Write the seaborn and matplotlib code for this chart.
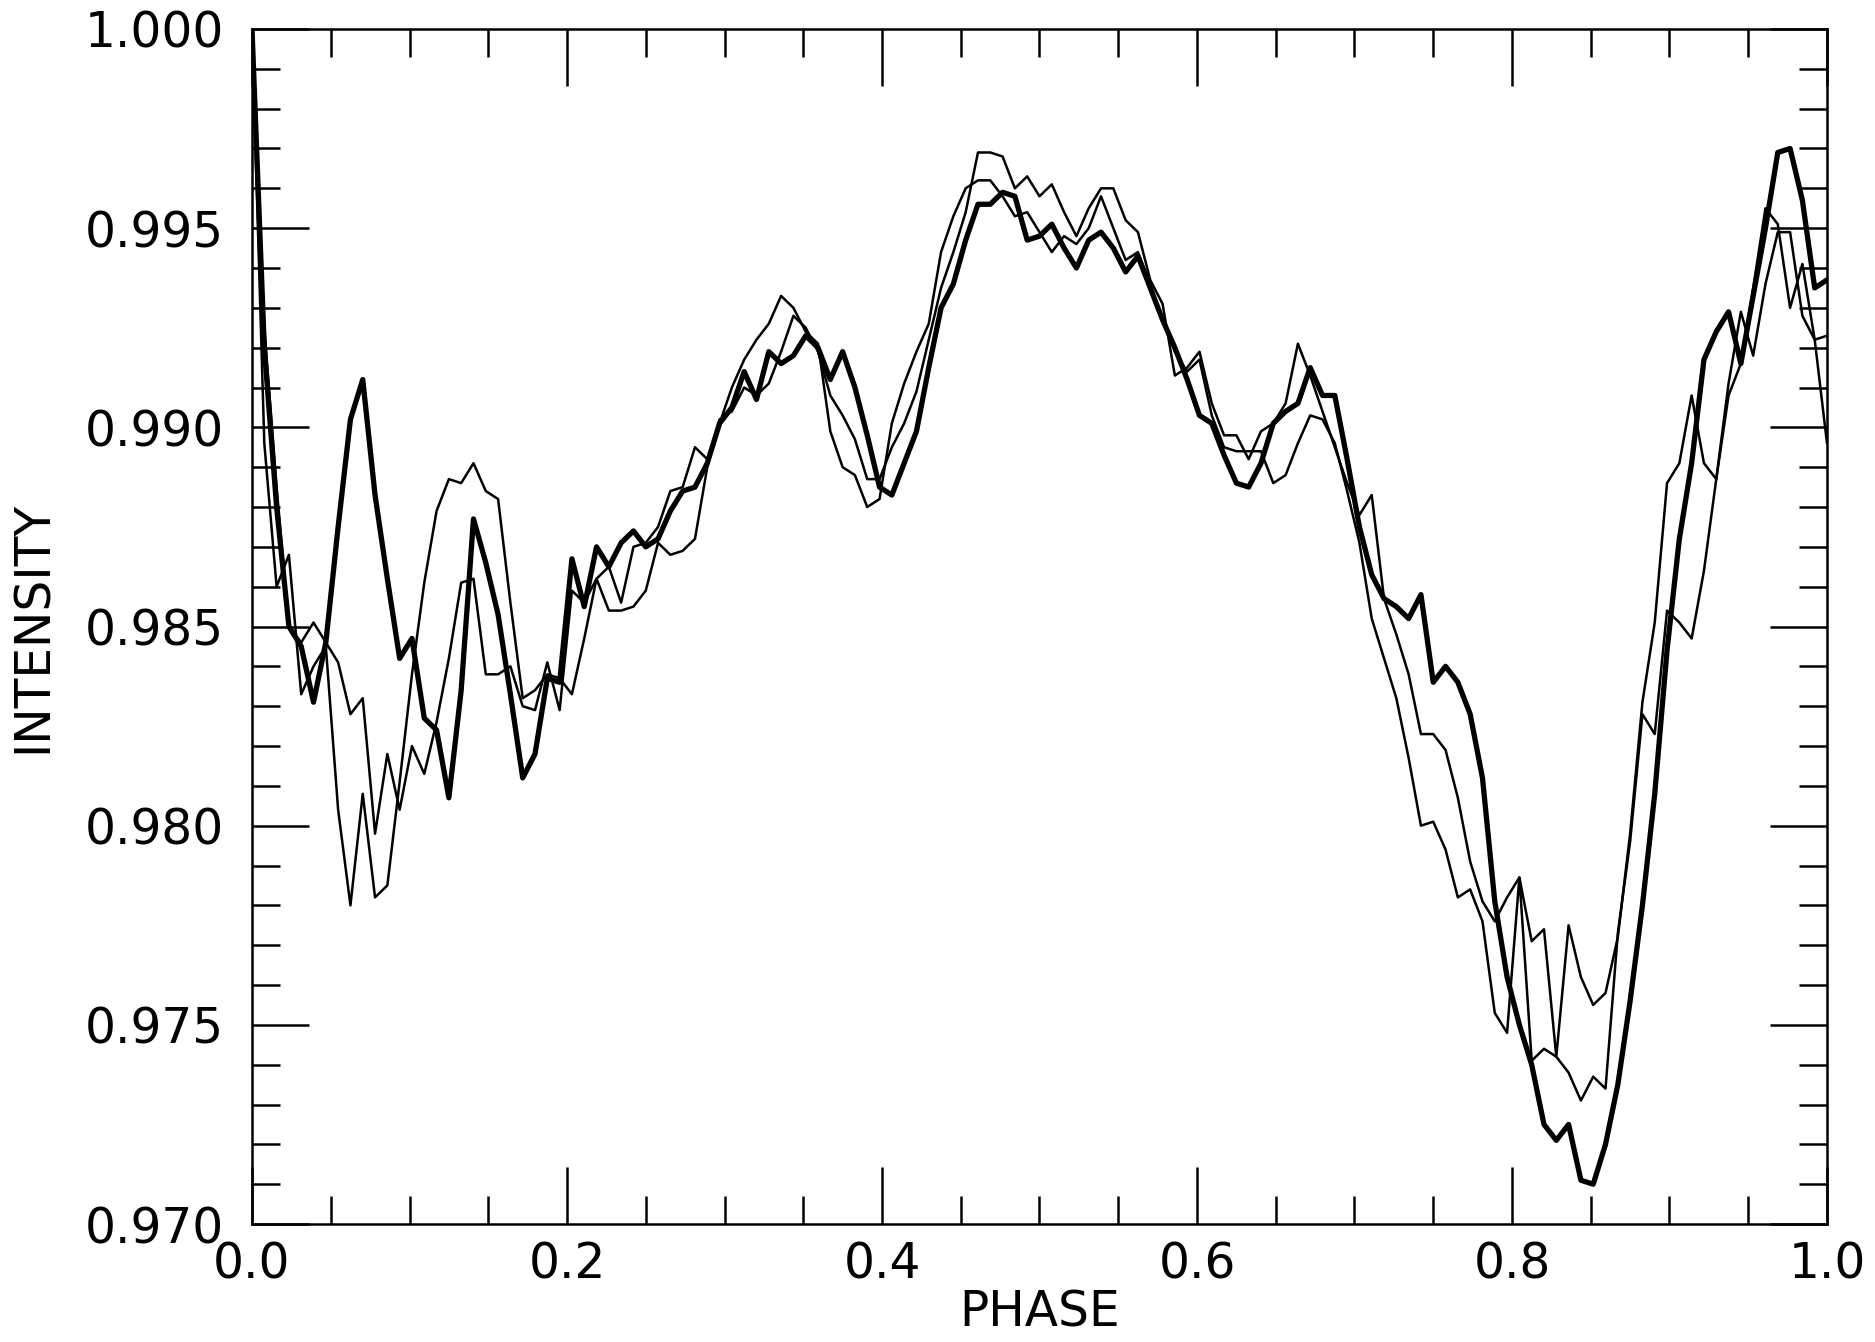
import numpy as np
import pandas as pd
import matplotlib
matplotlib.use("Agg")
import matplotlib.pyplot as plt
from matplotlib.ticker import MultipleLocator, FormatStrFormatter
import seaborn as sns

# phase grid: 129 samples over one cycle (step 1/128)
phase = np.arange(129) / 128.0

# thick curve
curve_a = [
    1.0000, 0.9920, 0.9880, 0.9850, 0.9845, 0.9831, 0.9846, 0.9875, 0.9902, 0.9912,
    0.9883, 0.9862, 0.9842, 0.9847, 0.9827, 0.9824, 0.9807, 0.9834, 0.9877, 0.9866,
    0.9853, 0.9833, 0.9812, 0.9818, 0.9837, 0.9836, 0.9867, 0.9855, 0.9870, 0.9865,
    0.9871, 0.9874, 0.9870, 0.9872, 0.9879, 0.9884, 0.9885, 0.9891, 0.9901, 0.9905,
    0.9914, 0.9907, 0.9919, 0.9916, 0.9918, 0.9923, 0.9920, 0.9912, 0.9919, 0.9910,
    0.9898, 0.9885, 0.9883, 0.9891, 0.9899, 0.9915, 0.9930, 0.9936, 0.9947, 0.9956,
    0.9956, 0.9959, 0.9958, 0.9947, 0.9948, 0.9951, 0.9945, 0.9940, 0.9947, 0.9949,
    0.9945, 0.9939, 0.9943, 0.9935, 0.9927, 0.9920, 0.9912, 0.9903, 0.9901, 0.9893,
    0.9886, 0.9885, 0.9891, 0.9901, 0.9904, 0.9906, 0.9915, 0.9908, 0.9908, 0.9892,
    0.9875, 0.9863, 0.9857, 0.9855, 0.9852, 0.9858, 0.9836, 0.9840, 0.9836, 0.9828,
    0.9812, 0.9781, 0.9762, 0.9750, 0.9740, 0.9725, 0.9721, 0.9725, 0.9711, 0.9710,
    0.9720, 0.9735, 0.9756, 0.9780, 0.9808, 0.9844, 0.9872, 0.9891, 0.9917, 0.9924,
    0.9929, 0.9916, 0.9933, 0.9950, 0.9969, 0.9970, 0.9957, 0.9935, 0.9937,
]

# thin curve 1
curve_b = [
    1.0000, 0.9896, 0.9860, 0.9868, 0.9833, 0.9840, 0.9845, 0.9804, 0.9780, 0.9808,
    0.9782, 0.9785, 0.9811, 0.9838, 0.9861, 0.9879, 0.9887, 0.9886, 0.9891, 0.9884,
    0.9882, 0.9856, 0.9832, 0.9834, 0.9838, 0.9837, 0.9833, 0.9847, 0.9862, 0.9854,
    0.9854, 0.9855, 0.9859, 0.9871, 0.9868, 0.9869, 0.9872, 0.9890, 0.9902, 0.9904,
    0.9910, 0.9908, 0.9911, 0.9919, 0.9928, 0.9925, 0.9919, 0.9908, 0.9903, 0.9897,
    0.9887, 0.9887, 0.9895, 0.9901, 0.9909, 0.9922, 0.9935, 0.9944, 0.9954, 0.9969,
    0.9969, 0.9968, 0.9960, 0.9963, 0.9958, 0.9961, 0.9954, 0.9948, 0.9955, 0.9960,
    0.9960, 0.9952, 0.9949, 0.9937, 0.9931, 0.9913, 0.9915, 0.9919, 0.9906, 0.9898,
    0.9898, 0.9892, 0.9899, 0.9901, 0.9906, 0.9921, 0.9913, 0.9904, 0.9895, 0.9886,
    0.9878, 0.9883, 0.9857, 0.9848, 0.9838, 0.9823, 0.9823, 0.9819, 0.9807, 0.9791,
    0.9781, 0.9776, 0.9782, 0.9787, 0.9771, 0.9774, 0.9742, 0.9775, 0.9762, 0.9755,
    0.9758, 0.9772, 0.9798, 0.9831, 0.9851, 0.9886, 0.9891, 0.9908, 0.9891, 0.9887,
    0.9911, 0.9929, 0.9918, 0.9936, 0.9949, 0.9949, 0.9928, 0.9922, 0.9896,
]

# thin curve 2
curve_c = [
    1.0000, 0.9925, 0.9885, 0.9850, 0.9846, 0.9851, 0.9846, 0.9841, 0.9828, 0.9832,
    0.9798, 0.9818, 0.9804, 0.9820, 0.9813, 0.9826, 0.9842, 0.9861, 0.9862, 0.9838,
    0.9838, 0.9840, 0.9830, 0.9829, 0.9841, 0.9829, 0.9859, 0.9856, 0.9862, 0.9865,
    0.9856, 0.9870, 0.9871, 0.9875, 0.9884, 0.9885, 0.9895, 0.9892, 0.9901, 0.9910,
    0.9917, 0.9922, 0.9926, 0.9933, 0.9930, 0.9924, 0.9921, 0.9899, 0.9890, 0.9888,
    0.9880, 0.9882, 0.9901, 0.9911, 0.9919, 0.9926, 0.9944, 0.9953, 0.9960, 0.9962,
    0.9962, 0.9958, 0.9953, 0.9954, 0.9949, 0.9944, 0.9948, 0.9946, 0.9950, 0.9958,
    0.9950, 0.9942, 0.9944, 0.9936, 0.9927, 0.9919, 0.9914, 0.9917, 0.9903, 0.9895,
    0.9894, 0.9894, 0.9894, 0.9886, 0.9888, 0.9896, 0.9903, 0.9902, 0.9896, 0.9884,
    0.9871, 0.9852, 0.9842, 0.9832, 0.9817, 0.9800, 0.9801, 0.9794, 0.9782, 0.9784,
    0.9776, 0.9753, 0.9748, 0.9787, 0.9741, 0.9744, 0.9742, 0.9738, 0.9731, 0.9737,
    0.9734, 0.9773, 0.9796, 0.9828, 0.9823, 0.9854, 0.9851, 0.9847, 0.9864, 0.9887,
    0.9908, 0.9916, 0.9935, 0.9955, 0.9951, 0.9930, 0.9941, 0.9922, 0.9923,
]

sns.set_style("ticks")
plt.rcParams["font.family"] = ["DejaVu Sans"]
plt.rcParams["text.color"] = "black"
plt.rcParams["axes.labelcolor"] = "black"

df = pd.concat([
    pd.DataFrame({"phase": phase, "intensity": curve_b, "curve": "b"}),
    pd.DataFrame({"phase": phase, "intensity": curve_c, "curve": "c"}),
    pd.DataFrame({"phase": phase, "intensity": curve_a, "curve": "a"}),
])

fig = plt.figure(figsize=(18.75, 13.42), dpi=100)
ax = fig.add_axes([0.1344, 0.0879, 0.8400, 0.8905])

# thin curves first, thick one on top
widths = {"b": 1.8, "c": 1.8, "a": 3.8}
for name in ["b", "c", "a"]:
    sns.lineplot(data=df[df["curve"] == name], x="phase", y="intensity",
                 color="black", lw=widths[name], estimator=None, sort=False,
                 ax=ax, legend=False)

ax.set_xlim(0, 1)
ax.set_ylim(0.970, 1.000)
ax.xaxis.set_major_locator(MultipleLocator(0.2))
ax.xaxis.set_minor_locator(MultipleLocator(0.05))
ax.yaxis.set_major_locator(MultipleLocator(0.005))
ax.yaxis.set_minor_locator(MultipleLocator(0.001))
ax.xaxis.set_major_formatter(FormatStrFormatter("%.1f"))
ax.yaxis.set_major_formatter(FormatStrFormatter("%.3f"))

ax.tick_params(which="both", direction="in", top=True, right=True, width=1.8, colors="black")
ax.tick_params(which="major", length=41, labelsize=35)
ax.tick_params(axis="x", which="major", pad=12)
ax.tick_params(axis="y", which="major", pad=20)
ax.tick_params(which="minor", length=20)
for sp in ax.spines.values():
    sp.set_linewidth(1.8)
    sp.set_color("black")

ax.set_xlabel("PHASE", fontsize=35, labelpad=0, color="black")
ax.set_ylabel("INTENSITY", fontsize=35, labelpad=20, color="black")

fig.savefig("out.png", dpi=100)
